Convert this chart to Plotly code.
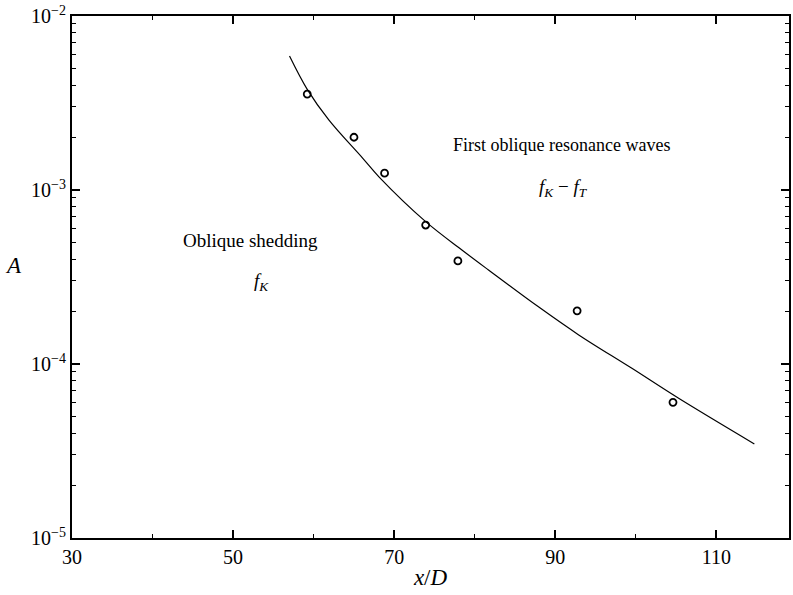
import plotly.graph_objects as go

# Measured amplitudes (open circles)
x_meas = [59.2, 65.0, 68.8, 73.9, 77.9, 92.7, 104.6]
a_meas = [3.56e-3, 2.01e-3, 1.25e-3, 6.29e-4, 3.91e-4, 2.02e-4, 6.02e-5]

# Fitted boundary curve between the two regimes
x_fit = [57.0, 59.2, 61.9, 66.1, 68.1, 73.9, 78.4, 81.7, 87.9, 92.9, 99.5, 105.3, 114.7]
a_fit = [5.89e-3, 3.79e-3, 2.52e-3, 1.52e-3, 1.19e-3, 6.58e-4, 4.52e-4,
         3.47e-4, 2.13e-4, 1.47e-4, 9.44e-5, 6.35e-5, 3.47e-5]

x_ticks = [30, 50, 70, 90, 110]
x_minor = [40, 60, 80, 100]
y_ticks = [1e-5, 1e-4, 1e-3, 1e-2]
y_ticktext = ["10<sup>−5</sup>", "10<sup>−4</sup>", "10<sup>−3</sup>", "10<sup>−2</sup>"]
y_minor = [m * 10.0 ** e for e in (-5, -4, -3) for m in range(2, 10)]

serif = "Liberation Serif, Times New Roman, serif"
label_font = dict(family=serif, size=19, color="black")

fig = go.Figure()
fig.add_trace(go.Scatter(
    x=x_fit, y=a_fit, mode="lines", line=dict(color="black", width=1.2, shape="spline"),
    showlegend=False, hoverinfo="skip"))
fig.add_trace(go.Scatter(
    x=x_meas, y=a_meas, mode="markers",
    marker=dict(symbol="circle-open", size=7, color="black", line=dict(width=1.8)),
    showlegend=False))

# Regime labels (y given as log10 of A)
fig.add_annotation(x=52.1, y=-3.29, xref="x", yref="y", text="Oblique shedding",
                   showarrow=False, font=label_font)
fig.add_annotation(x=53.5, y=-3.53, xref="x", yref="y", text="<i>f<sub>K</sub></i>",
                   showarrow=False, font=label_font)
fig.add_annotation(x=90.8, y=-2.74, xref="x", yref="y", text="First oblique resonance waves",
                   showarrow=False, font=dict(family=serif, size=18, color="black"))
fig.add_annotation(x=91.0, y=-2.99, xref="x", yref="y",
                   text="<i>f<sub>K</sub></i> − <i>f<sub>T</sub></i>",
                   showarrow=False, font=label_font)

# Upright y-axis label
plot_w = 793 - 72 - 2
plot_h = 595 - 16 - 57
fig.add_annotation(x=(13 - 72) / plot_w, y=1 - (265 - 16) / plot_h,
                   xref="paper", yref="paper", xanchor="center", yanchor="middle",
                   text="<i>A</i>", showarrow=False,
                   font=dict(family=serif, size=23, color="black"))

fig.update_layout(
    width=793, height=595,
    margin=dict(l=72, r=2, t=16, b=57),
    paper_bgcolor="white", plot_bgcolor="white",
    font=dict(family=serif, size=19, color="black"),
    xaxis=dict(
        range=[30, 119], tickmode="array", tickvals=x_ticks,
        ticks="inside", ticklen=8, tickwidth=1.5, tickcolor="black",
        showline=True, linecolor="black", linewidth=2, mirror="ticks",
        showgrid=False, zeroline=False,
        minor=dict(tickmode="array", tickvals=x_minor, ticks="inside", ticklen=4,
                   tickwidth=1.2, tickcolor="black", showgrid=False),
        title=dict(text="<i>x</i>/<i>D</i>", font=dict(family=serif, size=23), standoff=2),
        tickfont=dict(family=serif, size=20),
    ),
    yaxis=dict(
        type="log", range=[-5, -2], tickmode="array", tickvals=y_ticks, ticktext=y_ticktext,
        ticks="inside", ticklen=8, tickwidth=1.5, tickcolor="black",
        showline=True, linecolor="black", linewidth=2, mirror="ticks",
        showgrid=False, zeroline=False,
        minor=dict(tickmode="array", tickvals=y_minor, ticks="inside", ticklen=4,
                   tickwidth=1.2, tickcolor="black", showgrid=False),
        tickfont=dict(family=serif, size=20),
    ),
)

fig.write_html("out.html")
